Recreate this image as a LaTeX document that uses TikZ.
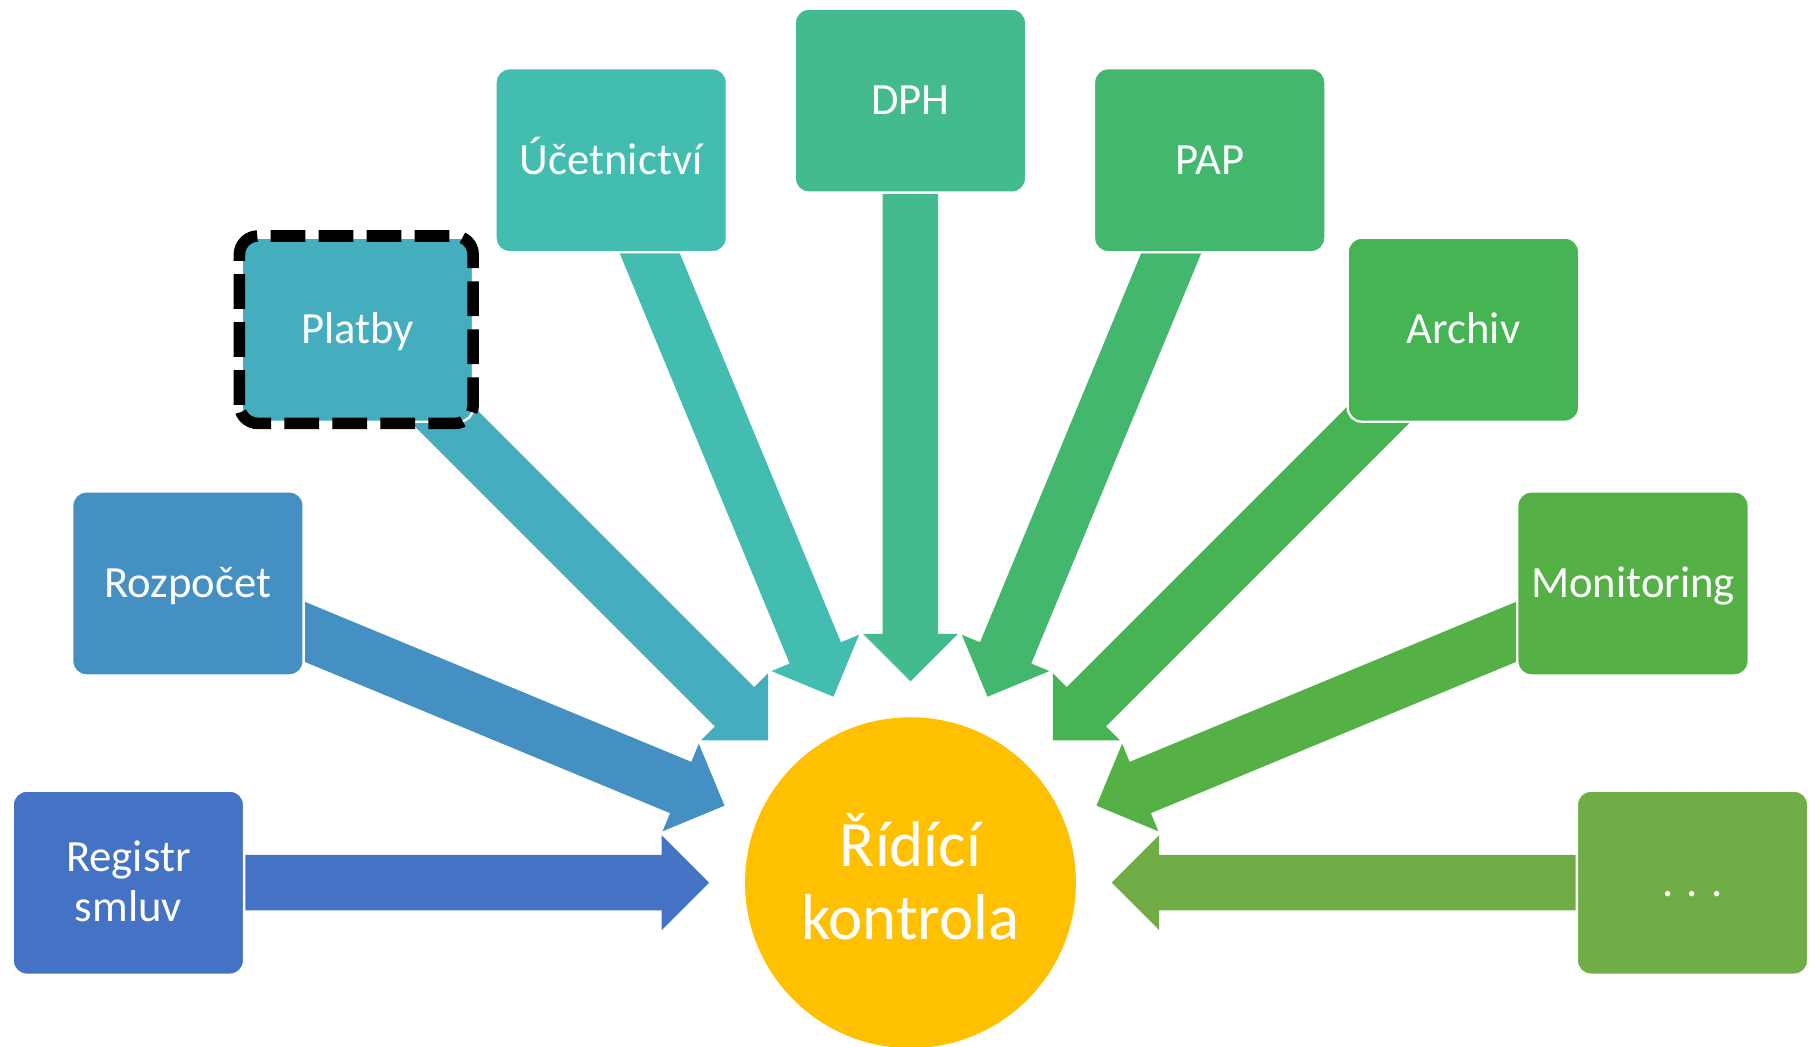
\documentclass[tikz,border=0pt]{standalone}
\usepackage{fontspec}
\setmainfont{Carlito}
\definecolor{cA}{HTML}{4472C4}
\definecolor{cB}{HTML}{4490C2}
\definecolor{cC}{HTML}{44AEBF}
\definecolor{cD}{HTML}{43BDAF}
\definecolor{cE}{HTML}{43BB8E}
\definecolor{cF}{HTML}{44B76F}
\definecolor{cG}{HTML}{45B452}
\definecolor{cH}{HTML}{55B046}
\definecolor{cI}{HTML}{70AD47}
\definecolor{gold}{HTML}{FFC000}
\newcommand\radarrow[2]{\fill[#2, rotate=#1] (676,24) -- (215,24) -- (215,41) -- (174,0) -- (215,-41) -- (215,-24) -- (676,-24) -- cycle;}
\newcommand\bstrut{\rule[-4.75pt]{0pt}{21.5pt}}
\newcommand\hstrut{\rule[-7pt]{0pt}{31.75pt}}
\begin{document}
\begin{tikzpicture}[x=0.5pt, y=0.5pt,
  box/.style={draw=white, line width=1pt, rounded corners=6pt, minimum width=100pt,
    minimum height=79.5pt, inner sep=0pt, align=center, text=white,
    font=\fontsize{19.3}{21.5}\selectfont},
  hub/.style={circle, fill=gold, minimum size=143pt, inner sep=0pt, align=center,
    text=white, font=\fontsize{28}{31.75}\selectfont},
  focus/.style={draw=black, line width=5pt, dash pattern=on 15pt off 5.75pt, rounded corners=8pt}]
\useasboundingbox (-787,-142) rectangle (781,763);
% block arrows
\radarrow{180}{cA}
\radarrow{157.5}{cB}
\radarrow{135}{cC}
\radarrow{112.5}{cD}
\radarrow{90}{cE}
\radarrow{67.5}{cF}
\radarrow{45}{cG}
\radarrow{22.5}{cH}
\radarrow{0}{cI}
% boxes
\node[box, fill=cA] (reg) at (180:676) {\bstrut Registr\\\bstrut smluv};
\node[box, fill=cB] (roz) at (157.5:676) {\bstrut Rozpočet};
\node[box, fill=cC] (pla) at (135:676) {\bstrut Platby};
\node[box, fill=cD] (uce) at (112.5:676) {\bstrut Účetnictví};
\node[box, fill=cE] (dph) at (90:676) {\bstrut DPH};
\node[box, fill=cF] (pap) at (67.5:676) {\bstrut PAP};
\node[box, fill=cG] (arc) at (45:676) {\bstrut Archiv};
\node[box, fill=cH] (mon) at (22.5:676) {\bstrut Monitoring};
\node[box, fill=cI] (dots) at (0:676) {\bstrut . . .};
% hub
\node[hub] (rk) at (0,0) {\hstrut Řídící\\\hstrut kontrola};
% dashed highlight
\draw[focus] ([shift={(-102,-81)}]pla.center) rectangle ([shift={(100,81)}]pla.center);
\end{tikzpicture}
\end{document}
